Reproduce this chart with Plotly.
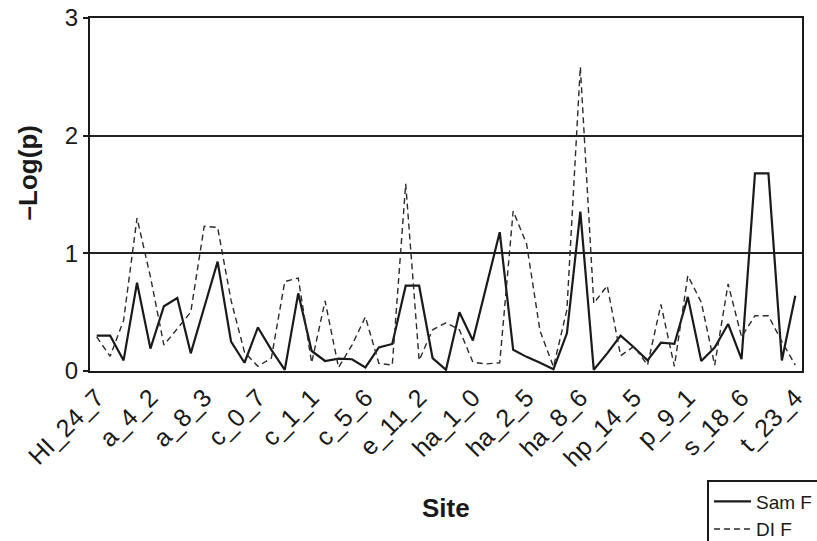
import plotly.graph_objects as go

# Values (53 sites, every 4th labelled)
sam_f = [0.30, 0.30, 0.09, 0.75, 0.19, 0.55, 0.62, 0.15, 0.54, 0.93,
         0.25, 0.07, 0.37, 0.18, 0.01, 0.66, 0.17, 0.085, 0.105, 0.10,
         0.03, 0.20, 0.23, 0.725, 0.725, 0.11, 0.01, 0.50, 0.26, 0.72,
         1.18, 0.18, 0.12, 0.07, 0.015, 0.32, 1.355, 0.01, 0.15, 0.30,
         0.20, 0.09, 0.24, 0.23, 0.63, 0.085, 0.20, 0.40, 0.10, 1.68,
         1.68, 0.09, 0.64]
di_f = [0.29, 0.125, 0.43, 1.30, 0.80, 0.22, 0.36, 0.50, 1.23, 1.22,
        0.60, 0.16, 0.04, 0.11, 0.76, 0.79, 0.07, 0.595, 0.03, 0.22,
        0.46, 0.065, 0.05, 1.59, 0.09, 0.35, 0.41, 0.35, 0.075, 0.06,
        0.07, 1.36, 1.08, 0.34, 0.035, 0.52, 2.585, 0.575, 0.725, 0.13,
        0.21, 0.05, 0.565, 0.04, 0.81, 0.585, 0.05, 0.74, 0.29, 0.47,
        0.47, 0.25, 0.05]
tick_labels = ["HI_24_7", "a_4_2", "a_8_3", "c_0_7", "c_1_1", "c_5_6", "e_11_2",
               "ha_1_0", "ha_2_5", "ha_8_6", "hp_14_5", "p_9_1", "s_18_6", "t_23_4"]
y_ticks = [0, 1, 2, 3]

n = len(sam_f)
x = list(range(n))
label_step = 4
FONT = "Liberation Sans, Arial, sans-serif"

fig = go.Figure()
fig.add_trace(go.Scatter(x=x, y=sam_f, mode="lines", name="Sam F",
                         line=dict(color="#1a1a1a", width=2.2)))
fig.add_trace(go.Scatter(x=x, y=di_f, mode="lines", name="DI F",
                         line=dict(color="#2b2b2b", width=1.4, dash="6px,4px")))

fig.update_layout(
    width=817, height=541,
    paper_bgcolor="white", plot_bgcolor="white",
    margin=dict(l=90, r=15, t=18, b=170, autoexpand=False),
    font=dict(family=FONT, color="#1a1a1a"),
    xaxis=dict(range=[-0.5, n - 0.5], tickmode="array",
               tickvals=list(range(0, n, label_step)), ticktext=tick_labels,
               tickangle=-45, ticks="", showline=True, linecolor="#1a1a1a",
               linewidth=2, mirror=True, showgrid=False, zeroline=False,
               ticklabeloverflow="allow",
               tickfont=dict(size=25, family=FONT)),
    xaxis2=dict(overlaying="x", anchor="y", side="bottom",
                range=[-0.5, n - 0.5], tickmode="array",
                tickvals=[i - 0.5 for i in range(n + 1)], ticks="outside",
                ticklen=7, tickwidth=2, tickcolor="#1a1a1a",
                showticklabels=False, showline=False, showgrid=False,
                zeroline=False),
    yaxis=dict(range=[0, 3], tickmode="array", tickvals=y_ticks,
               ticks="outside", ticklen=5, tickwidth=2, tickcolor="#1a1a1a",
               showgrid=True, gridcolor="#222222", gridwidth=2,
               showline=True, linecolor="#1a1a1a", linewidth=2, mirror=True,
               zeroline=False, ticklabeloverflow="allow",
               tickfont=dict(size=24, family=FONT)),
    legend=dict(x=0.8666, y=-0.31, xanchor="left", yanchor="top",
                bordercolor="#1a1a1a", borderwidth=2, bgcolor="white",
                font=dict(size=19, family=FONT), tracegroupgap=0,
                itemwidth=37),
    annotations=[
        dict(text="<b>Site</b>", xref="paper", yref="paper", x=0.5, y=-0.388,
             xanchor="center", yanchor="middle", showarrow=False,
             font=dict(size=26, family=FONT)),
        dict(text="<b>–Log(p)</b>", xref="paper", yref="paper", x=-0.087,
             y=0.56, xanchor="center", yanchor="middle", showarrow=False,
             textangle=-90, font=dict(size=26, family=FONT)),
    ],
)

fig.write_html(
    "out.html",
    config={"displayModeBar": False},
    post_script="document.body.style.margin='0px';"
                "document.body.style.overflow='hidden';",
)
